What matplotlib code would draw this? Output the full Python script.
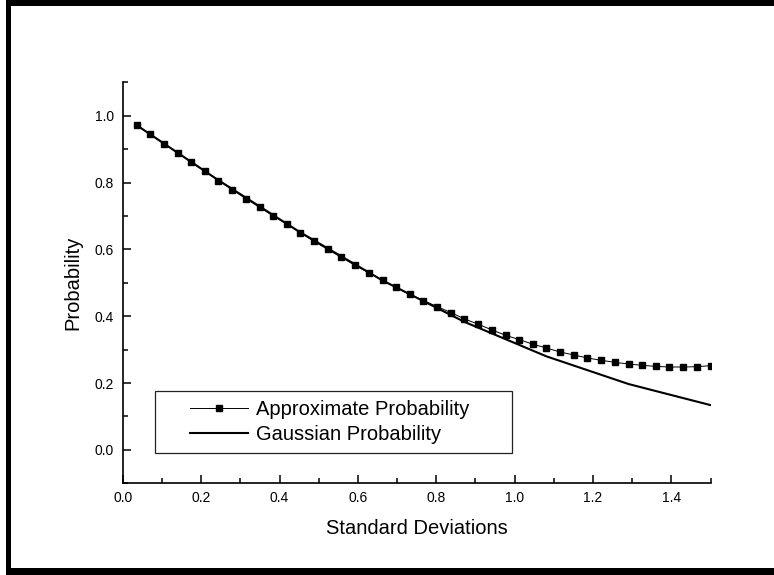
import matplotlib
matplotlib.use("Agg")
import matplotlib.pyplot as plt
from matplotlib.patches import Rectangle
from matplotlib.ticker import MultipleLocator, FormatStrFormatter

plt.rcParams['font.family'] = ['Liberation Sans', 'DejaVu Sans']

# Sampled standard deviations and the approximate tail probability at each
std_dev = [0.035, 0.070, 0.105, 0.140, 0.174, 0.209, 0.244, 0.279, 0.314, 0.349,
           0.384, 0.419, 0.453, 0.488, 0.523, 0.558, 0.593, 0.628, 0.663, 0.698,
           0.733, 0.767, 0.802, 0.837, 0.872, 0.907, 0.942, 0.977, 1.012, 1.047,
           1.081, 1.116, 1.151, 1.186, 1.221, 1.256, 1.291, 1.326, 1.360, 1.395,
           1.430, 1.465, 1.500]
approx_prob = [0.972, 0.944, 0.916, 0.889, 0.861, 0.834, 0.806, 0.779, 0.752, 0.726,
               0.700, 0.675, 0.650, 0.624, 0.600, 0.576, 0.552, 0.530, 0.507, 0.486,
               0.465, 0.447, 0.429, 0.411, 0.392, 0.376, 0.359, 0.343, 0.330, 0.316,
               0.305, 0.293, 0.284, 0.275, 0.268, 0.262, 0.257, 0.253, 0.250, 0.248,
               0.248, 0.249, 0.252]

# Gaussian (two-sided) tail probability on a coarser grid
gauss_x = [0.035, 0.244, 0.453, 0.663, 0.872, 1.081, 1.291, 1.500]
gauss_prob = [0.972, 0.807, 0.651, 0.507, 0.383, 0.280, 0.197, 0.134]

W, H = 774, 575
fig = plt.figure(figsize=(W / 100, H / 100), dpi=100)
ax = fig.add_axes([122.8 / W, 1 - 483.3 / H, (710.5 - 122.8) / W, (483.3 - 82.3) / H])

ax.plot(std_dev, approx_prob, color='black', lw=0.7, marker='s', ms=3.8,
        mfc='black', mec='black', label='Approximate Probability')
ax.plot(gauss_x, gauss_prob, color='black', lw=1.5, label='Gaussian Probability')

ax.set_xlim(0.0, 1.5)
ax.set_ylim(-0.1, 1.1)
ax.xaxis.set_major_locator(MultipleLocator(0.2))
ax.xaxis.set_minor_locator(MultipleLocator(0.1))
ax.yaxis.set_major_locator(MultipleLocator(0.2))
ax.yaxis.set_minor_locator(MultipleLocator(0.1))
ax.xaxis.set_major_formatter(FormatStrFormatter('%.1f'))
ax.yaxis.set_major_formatter(FormatStrFormatter('%.1f'))

for side in ('top', 'right'):
    ax.spines[side].set_visible(False)
for side in ('left', 'bottom'):
    ax.spines[side].set_linewidth(1.2)

ax.tick_params(which='major', direction='in', length=6, width=1.1,
               labelsize=10, pad=5.5)
ax.tick_params(which='minor', direction='in', length=3.5, width=1.1)
ax.tick_params(axis='y', which='major', pad=6.5)

ax.set_xlabel('Standard Deviations', fontsize=14.5, labelpad=10)
ax.set_ylabel('Probability', fontsize=14.5, labelpad=9)

leg = ax.legend(loc='upper left', bbox_to_anchor=(190 / W, 1 - 400 / H),
                bbox_transform=fig.transFigure, frameon=False, fontsize=14.5,
                borderpad=0, handlelength=2.86, handletextpad=0.44,
                labelspacing=0.3, numpoints=1, borderaxespad=0)

# Legend box
fig.add_artist(Rectangle((155 / W, 1 - 453 / H), 357 / W, 62 / H,
                         transform=fig.transFigure, fill=False,
                         edgecolor='#222222', lw=0.9))

# Heavy page border (left, top, bottom)
for (x0, y0, x1, y1) in [(6.4, 0, 10.9, 575), (6.4, 0, 774, 6), (6.4, 568, 774, 575)]:
    fig.add_artist(Rectangle((x0 / W, 1 - y1 / H), (x1 - x0) / W, (y1 - y0) / H,
                             transform=fig.transFigure, facecolor='black',
                             edgecolor='none'))

fig.savefig('out.png', dpi=100)
